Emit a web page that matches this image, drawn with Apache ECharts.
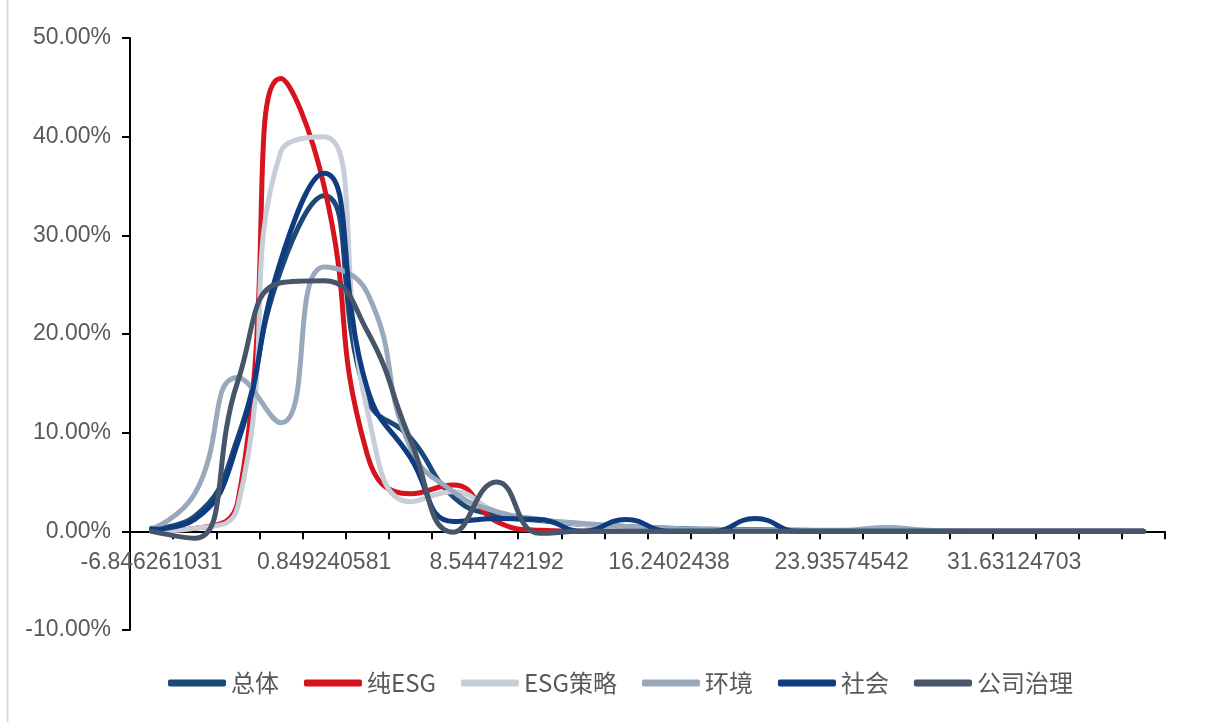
<!DOCTYPE html>
<html>
<head>
<meta charset="utf-8">
<script src="https://cdn.jsdelivr.net/npm/echarts@6.0.0/dist/echarts.min.js"></script>
<style>
  html, body { margin: 0; padding: 0; background: #ffffff; }
  #chart { width: 1229px; height: 722px; }
</style>
</head>
<body>
<div id="chart"></div>
<script>
// Bin centres of the kernel-density estimate (x axis categories)
const categories = [
  '-6.846261031', '-4.922385628', '-2.998510225', '-1.074634822',
  '0.849240581', '2.773115984', '4.696991387', '6.62086679',
  '8.544742192', '10.4686176', '12.392493', '14.3163684',
  '16.2402438', '18.16411921', '20.08799461', '22.01187001',
  '23.93574542', '25.85962082', '27.78349622', '29.70737162',
  '31.63124703', '33.55512243', '35.47899783', '37.40287324'
];

// Density values per group, in percent
const totalVals   = [0.3, 1.5, 9.5, 26.5, 34.0, 13.5, 9.5, 3.5, 1.6, 1.1, 0.7, 0.5, 0.3, 0.2, 0.15, 0.1, 0.05, 0.05, 0, 0, 0, 0, 0, 0];
const pureEsgVals = [0, 0.3, 3.0, 45.9, 35.0, 7.8, 3.8, 4.7, 1.0, 0.1, 0, 0, 0, 0, 0, 0, 0, 0, 0, 0, 0, 0, 0, 0];
const strategyVals= [0, 0.3, 2.5, 38.5, 40.0, 12.3, 3.0, 4.0, 2.0, 1.2, 0.7, 0.4, 0.2, 0.1, 0, 0, 0, 0, 0, 0, 0, 0, 0, 0];
const envVals     = [0.2, 3.8, 15.6, 11.0, 26.8, 24.2, 8.5, 4.0, 2.0, 1.2, 0.8, 0.5, 0.3, 0.2, 0.1, 0.1, 0.1, 0.4, 0.1, 0, 0, 0, 0, 0];
const socialVals  = [0.2, 1.2, 9.0, 27.5, 36.3, 14.5, 7.5, 1.0, 1.3, 1.2, 0.0, 1.2, 0, 0, 1.3, 0, 0, 0, 0, 0, 0, 0, 0, 0];
const governVals  = [0, -0.7, 15.2, 25.2, 25.4, 20.3, 9.3, -0.1, 5.0, -0.2, 0, 0, 0, 0, 0, 0, 0, 0, 0, 0, 0, 0, 0, 0];

const seriesNames = ['总体', '纯ESG', 'ESG策略', '环境', '社会', '公司治理'];
const seriesData  = [totalVals, pureEsgVals, strategyVals, envVals, socialVals, governVals];
const seriesColors = ['#1b4a78', '#d7131d', '#c7ced7', '#98a9bb', '#0f3b80', '#46556a'];

const textColor = '#595959';
const numFont = '"Liberation Sans", "Noto Sans CJK SC", sans-serif';
const cjkFont = '"Noto Sans CJK SC", "Liberation Sans", sans-serif';

const yMin = -10, yMax = 50;
const gridTop = 38, gridBottom = 92, chartH = 722;
// Lift the category axis (line, ticks and labels) to the zero line of the value axis
const plotH = chartH - gridTop - gridBottom;
const zeroOffset = -plotH * (0 - yMin) / (yMax - yMin);

const chart = echarts.init(document.getElementById('chart'), null, { renderer: 'canvas' });

chart.setOption({
  backgroundColor: '#ffffff',
  animation: false,
  textStyle: { fontFamily: numFont },
  grid: { left: 130, right: 64, top: gridTop, bottom: gridBottom, containLabel: false },
  legend: {
    data: seriesNames,
    left: 163,
    top: 666,
    icon: 'roundRect',
    itemWidth: 58,
    itemHeight: 7,
    itemGap: 25,
    textStyle: { fontSize: 24, color: textColor, fontFamily: cjkFont }
  },
  xAxis: {
    type: 'category',
    data: categories,
    boundaryGap: true,
    offset: zeroOffset,
    axisLine: { onZero: false, lineStyle: { color: '#000000', width: 2 } },
    axisTick: { show: true, interval: 0, alignWithLabel: false, length: 8, lineStyle: { color: '#000000', width: 2 } },
    axisLabel: { interval: 3, margin: 20, fontSize: 23, color: textColor, fontFamily: numFont },
    splitLine: { show: false }
  },
  yAxis: {
    type: 'value',
    min: yMin,
    max: yMax,
    interval: 10,
    axisLine: { show: true, lineStyle: { color: '#000000', width: 2 } },
    axisTick: { show: true, length: 8, lineStyle: { color: '#000000', width: 2 } },
    axisLabel: {
      margin: 19,
      fontSize: 23,
      color: textColor,
      fontFamily: numFont,
      formatter: v => v.toFixed(2) + '%'
    },
    splitLine: { show: false }
  },
  graphic: [{
    type: 'line',
    shape: { x1: 7.5, y1: 0, x2: 7.5, y2: 722 },
    style: { stroke: '#d9d9d9', lineWidth: 2 },
    silent: true
  }],
  series: seriesNames.map((name, i) => ({
    name: name,
    type: 'line',
    data: seriesData[i],
    smooth: 0.5,
    symbol: 'none',
    color: seriesColors[i],
    lineStyle: { color: seriesColors[i], width: 5, cap: 'round', join: 'round' }
  }))
});
</script>
</body>
</html>
